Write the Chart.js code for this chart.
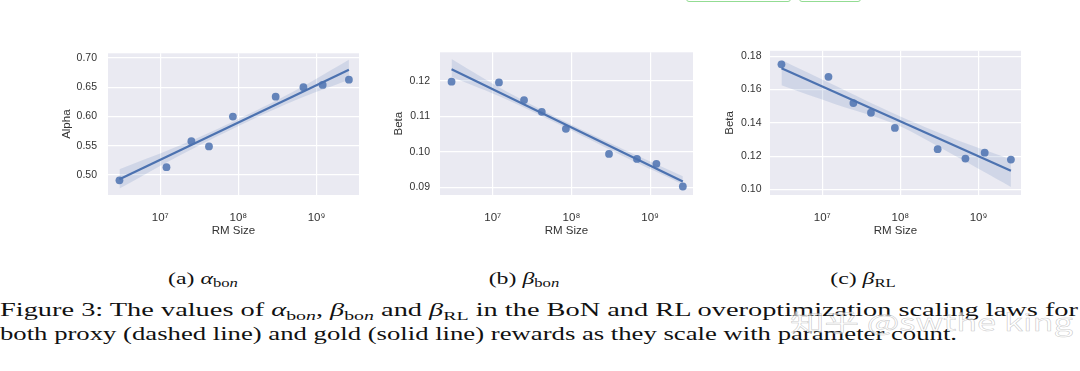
<!DOCTYPE html>
<html>
<head>
<meta charset="utf-8">
<script src="https://cdn.jsdelivr.net/npm/chart.js@4/dist/chart.umd.min.js"></script>
<style>
  body { margin: 0; width: 1080px; height: 371px; background: #fff; position: relative; overflow: hidden; }
  canvas { position: absolute; }
  .btn { position: absolute; top: -12px; height: 12px; border: 1.5px solid #93dc93; border-radius: 3px; }
  .txt { position: absolute; font-family: "Liberation Serif", "Times New Roman", serif; color: #111; white-space: nowrap; }
  .line { left: 0; font-size: 18.5px; line-height: 18.5px; transform-origin: left center; }
  .sub { width: 200px; text-align: center; font-size: 16.5px; line-height: 16px; top: 271px; transform-origin: center center; }
  sub { font-size: 70%; vertical-align: -0.3em; line-height: 0; }
  .wm { position: absolute; left: 790px; top: 304px; font-family: "Noto Sans CJK SC", "DejaVu Sans", sans-serif; font-size: 23px;
        color: rgba(255,255,255,0.6); -webkit-text-stroke: 0.5px rgba(140,140,140,0.45); white-space: nowrap; transform-origin: left center; }
</style>
</head>
<body>
<div class="btn" style="left:686px;width:103px"></div>
<div class="btn" style="left:799px;width:60px"></div>

<canvas id="plotA" width="330" height="215" style="left:40px;top:36px"></canvas>
<canvas id="plotB" width="335" height="215" style="left:370px;top:36px"></canvas>
<canvas id="plotC" width="330" height="215" style="left:705px;top:36px"></canvas>

<div class="txt sub" style="left:103px">(a) <i>α</i><sub>bo<i>n</i></sub></div>
<div class="txt sub" style="left:424px">(b) <i>β</i><sub>bo<i>n</i></sub></div>
<div class="txt sub" style="left:763px">(c) <i>β</i><sub>RL</sub></div>

<div class="txt line" id="line1" style="top:300.5px">Figure 3: The values of <i>α</i><sub>bo<i>n</i></sub>, <i>β</i><sub>bo<i>n</i></sub> and <i>β</i><sub>RL</sub> in the BoN and RL overoptimization scaling laws for</div>
<div class="txt line" id="line2" style="top:325px">both proxy (dashed line) and gold (solid line) rewards as they scale with parameter count.</div>
<div class="wm" id="wm">知乎 @swthe king</div>

<script>
// RM sizes (shared x values)
const rmSize = [3.0e6, 1.2e7, 2.5e7, 4.2e7, 8.5e7, 3.0e8, 6.8e8, 1.2e9, 2.6e9];
const alphaBon = [0.491, 0.5135, 0.558, 0.549, 0.600, 0.634, 0.650, 0.654, 0.663];
const betaBon = [0.1198, 0.1196, 0.1146, 0.1113, 0.1065, 0.0994, 0.0980, 0.0966, 0.0902];
const betaRL = [0.1752, 0.1677, 0.1519, 0.1461, 0.1370, 0.1242, 0.1186, 0.1221, 0.1180];

// fitted lines
const fitX = [3.0e6, 2.6e9];
const alphaFit = [0.493, 0.680];
const betaBonFit = [0.1233, 0.0916];
const betaRLFit = [0.1728, 0.1112];

// confidence bands
const bandX = [3.0e6, 1.5e7, 8.5e7, 5.0e8, 2.6e9];
const alphaUpper = [0.510, 0.5465, 0.5913, 0.6423, 0.697];
const alphaLower = [0.477, 0.5285, 0.5793, 0.6263, 0.663];
const betaBonUpper = [0.1262, 0.1170, 0.1084, 0.1003, 0.0931];
const betaBonLower = [0.1212, 0.1148, 0.1068, 0.0983, 0.0908];
const betaRLUpper = [0.1778, 0.1621, 0.1453, 0.1302, 0.1182];
const betaRLLower = [0.1626, 0.1511, 0.1393, 0.1202, 0.1015];

// tick labels
const xTicks = [1e7, 1e8, 1e9];
const alphaTicks = [0.50, 0.55, 0.60, 0.65, 0.70];
const betaBonTicks = [0.09, 0.10, 0.11, 0.12];
const betaRLTicks = [0.10, 0.12, 0.14, 0.16, 0.18];

const sup = { 7: '⁷', 8: '⁸', 9: '⁹' };
const sans = 'Liberation Sans, Arial, sans-serif';
const textColor = '#333';
const blue = '#4c72b0';

const bgPlugin = {
  id: 'bg',
  beforeDraw(chart) {
    const { ctx, chartArea: a } = chart;
    ctx.save();
    ctx.fillStyle = '#eaeaf2';
    ctx.fillRect(a.left, a.top, a.width, a.height);
    ctx.restore();
  }
};

const pts = (xs, ys) => xs.map((x, i) => ({ x: x, y: ys[i] }));

function makePlot(id, p) {
  return new Chart(document.getElementById(id), {
    type: 'scatter',
    plugins: [bgPlugin],
    data: {
      datasets: [
        { data: pts(bandX, p.upper), showLine: true, borderWidth: 0, pointRadius: 0, tension: 0.35,
          fill: '+1', backgroundColor: 'rgba(76,114,176,0.16)', order: 3 },
        { data: pts(bandX, p.lower), showLine: true, borderWidth: 0, pointRadius: 0, tension: 0.35,
          fill: false, order: 4 },
        { data: pts(rmSize, p.values), pointRadius: 3.9, pointBackgroundColor: 'rgba(76,114,176,0.85)',
          pointBorderWidth: 0, order: 1 },
        { data: pts(fitX, p.fit), showLine: true, borderColor: blue, borderWidth: 2.2, pointRadius: 0, order: 0 }
      ]
    },
    options: {
      responsive: false,
      animation: false,
      devicePixelRatio: 1,
      layout: { padding: { left: 0, top: 10, right: p.padRight, bottom: 0 } },
      plugins: { legend: { display: false }, tooltip: { enabled: false } },
      scales: {
        x: {
          type: 'logarithmic',
          min: 2.14e6,
          max: 3.5e9,
          afterBuildTicks: s => { s.ticks = xTicks.map(v => ({ value: v })); },
          afterFit: s => { s.height = 56; },
          ticks: {
            callback: v => '10' + sup[Math.round(Math.log10(v))],
            color: textColor, font: { family: sans, size: 11.5 }, padding: 16,
            maxRotation: 0, autoSkip: false
          },
          grid: { color: '#ffffff', lineWidth: 1.2, drawTicks: false },
          border: { display: false },
          title: { display: true, text: 'RM Size', color: textColor, font: { family: sans, size: 11.5 },
                   padding: { top: 0, bottom: 13 } }
        },
        y: {
          min: p.yMin,
          max: p.yMax,
          afterBuildTicks: s => { s.ticks = p.ticks.map(v => ({ value: v })); },
          afterFit: s => { s.width = p.yWidth; },
          ticks: {
            callback: v => v.toFixed(2),
            color: textColor, font: { family: sans, size: 10.5 }, padding: p.tickPad
          },
          grid: { color: '#ffffff', lineWidth: 1.2, drawTicks: false },
          border: { display: false },
          title: { display: true, text: p.title, color: textColor, font: { family: sans, size: 11.5 },
                   padding: { top: p.titlePad, bottom: 0 } }
        }
      }
    }
  });
}

makePlot('plotA', { values: alphaBon, fit: alphaFit, upper: alphaUpper, lower: alphaLower,
  yMin: 0.466, yMax: 0.708, ticks: alphaTicks, title: 'Alpha',
  padRight: 11, yWidth: 68, tickPad: 11, titlePad: 19.8 });
makePlot('plotB', { values: betaBon, fit: betaBonFit, upper: betaBonUpper, lower: betaBonLower,
  yMin: 0.0878, yMax: 0.1281, ticks: betaBonTicks, title: 'Beta',
  padRight: 12, yWidth: 70, tickPad: 10, titlePad: 22.1 });
makePlot('plotC', { values: betaRL, fit: betaRLFit, upper: betaRLUpper, lower: betaRLLower,
  yMin: 0.0967, yMax: 0.1833, ticks: betaRLTicks, title: 'Beta',
  padRight: 14, yWidth: 65, tickPad: 8.5, titlePad: 18.1 });

// the scanned caption is stretched sideways; fit each line to its width in the picture
function stretch(el, target) {
  const k = target / el.getBoundingClientRect().width;
  el.style.transform = 'scaleX(' + k + ')';
  return k;
}
stretch(document.getElementById('line1'), 1078);
const k = stretch(document.getElementById('line2'), 957);
document.querySelectorAll('.sub').forEach(el => { el.style.transform = 'scaleX(' + k + ')'; });
stretch(document.getElementById('wm'), 283);
</script>
</body>
</html>
